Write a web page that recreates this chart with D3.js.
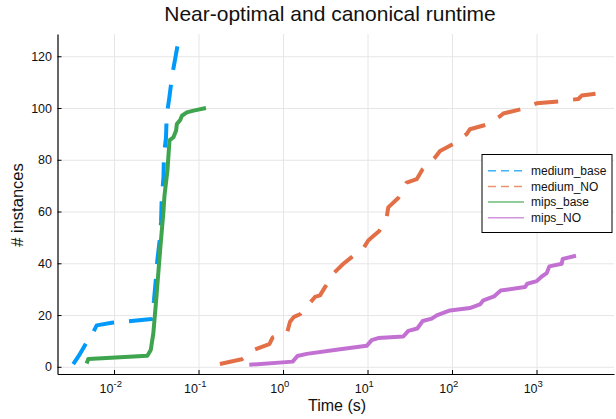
<!DOCTYPE html>
<html>
<head>
<meta charset="utf-8">
<script src="https://cdn.jsdelivr.net/npm/d3@7"></script>
<style>
  body { margin: 0; background: #fff; }
  text { font-family: "Liberation Sans", Arial, sans-serif; fill: #111; }
</style>
</head>
<body>
<div id="chart"></div>
<script>
// series: time (s) and cumulative # instances
var seriesNames = ["medium_base", "medium_NO", "mips_base", "mips_NO"];

var mediumBaseTime  = [0.00329, 0.00396, 0.00466, 0.00569, 0.00624, 0.0094, 0.028, 0.0297, 0.0314, 0.0325, 0.035, 0.036, 0.0366, 0.0385, 0.039, 0.0412, 0.042, 0.0451, 0.049, 0.0527, 0.0567];
var mediumBaseCount = [1, 5, 9, 13.5, 16, 17, 18.5, 25.7, 34.5, 41, 50, 56, 64, 73.5, 82, 88.5, 97, 104, 113, 118.7, 124.5];

var mediumNOTime  = [0.179, 0.324, 0.466, 0.689, 0.755, 1.125, 1.21, 1.35, 1.59, 2.13, 2.39, 2.74, 3.14, 4.02, 5.18, 6.33, 9.1, 10.2, 11.9, 13.8, 16.9, 17.6, 23.1, 29.1, 38.2, 45, 62.9, 72.1, 102, 149, 163, 250, 370, 405, 650, 1005, 1897, 3126, 3428, 5386];
var mediumNOCount = [1.1, 2.9, 6.7, 8.8, 11.4, 13.5, 17.4, 19.3, 20.3, 25.1, 27, 27.6, 30.8, 36.3, 39.8, 42.1, 46.2, 48.8, 50.7, 52.5, 58, 61.6, 65.2, 71.2, 72.5, 76.4, 80.9, 83.4, 86, 89.9, 91.8, 93.5, 96.8, 97.9, 99.5, 101.8, 102.6, 103.5, 104.8, 105.7];

var mipsBaseTime  = [0.00474, 0.00496, 0.0248, 0.0272, 0.0292, 0.0315, 0.0351, 0.0385, 0.0395, 0.0429, 0.0453, 0.0505, 0.0543, 0.0554, 0.0607, 0.0636, 0.0728, 0.0873, 0.1225];
var mipsBaseCount = [1.3, 3, 4.3, 6.5, 13, 25.7, 45, 60.3, 66, 76, 87.5, 88.7, 91.3, 93.8, 95.4, 97, 98.3, 99, 100];

var mipsNOTime  = [0.399, 1.30, 1.48, 1.91, 4.73, 9.78, 11.2, 13.4, 26.5, 30.4, 38.8, 45, 57.5, 65.9, 94.7, 163, 214, 235, 314, 377, 731, 778, 1005, 1153, 1321, 1418, 1987, 2042, 2932];
var mipsNOCount = [0.8, 2, 4.2, 5, 6.8, 8.1, 10.3, 11.1, 11.7, 13.9, 14.8, 17.7, 18.6, 19.9, 21.8, 22.7, 24.1, 25.7, 27.2, 29.5, 30.8, 32.1, 33.1, 34.9, 36.2, 38.8, 39.8, 41.7, 42.9];

var xTickExps = [-2, -1, 0, 1, 2, 3];
var yTicks = [0, 20, 40, 60, 80, 100, 120];

(function(){
    var width = 616;
    var height = 419;
    var left = 57.5, right = 614, top = 34, bottom = 374;

    var colors = ["#009afa", "#e36f47", "#3ea44e", "#c271d2"];
    var dashes = ["24,15", "24,15", null, null];

    var svg = d3.select("#chart")
        .append("svg")
        .attr("width", width)
        .attr("height", height);

    var x = d3.scaleLog()
        .domain([Math.pow(10, -2.669), Math.pow(10, 3.917)])
        .range([left, right]);
    var y = d3.scaleLinear()
        .domain([-2.78, 128.6])
        .range([bottom, top]);

    var xTicks = xTickExps.map(function(e){ return Math.pow(10, e) });

    // grid
    svg.append("g")
        .attr("transform", "translate(0," + bottom + ")")
        .call(d3.axisBottom(x).tickValues(xTicks).tickSize(-(bottom - top)).tickFormat(""))
        .call(function(g){
            g.select(".domain").remove();
            g.selectAll("line").attr("stroke", "#e6e6e6").attr("stroke-width", 1);
        });
    svg.append("g")
        .attr("transform", "translate(" + left + ",0)")
        .call(d3.axisLeft(y).tickValues(yTicks).tickSize(-(right - left)).tickFormat(""))
        .call(function(g){
            g.select(".domain").remove();
            g.selectAll("line").attr("stroke", "#e6e6e6").attr("stroke-width", 1);
        });

    // axes, ticks pointing inwards
    var xAxis = svg.append("g")
        .attr("transform", "translate(0," + bottom + ")")
        .call(d3.axisBottom(x).tickValues(xTicks).tickSizeInner(-4).tickSizeOuter(0).tickPadding(11).tickFormat(""));
    xAxis.select(".domain").attr("stroke", "#000").attr("stroke-width", 1.2);
    xAxis.selectAll(".tick line").attr("stroke", "#000");
    xAxis.selectAll(".tick text").each(function(d, i){
        var t = d3.select(this)
            .attr("font-size", 12.5)
            .attr("fill", "#111")
            .attr("y", 19)
            .attr("dy", 0)
            .attr("dx", "-0.3em");
        t.append("tspan").text("10");
        t.append("tspan").attr("font-size", 9.5).attr("dy", -6).text(xTickExps[i] < 0 ? "-" + (-xTickExps[i]) : xTickExps[i]);
    });

    var yAxis = svg.append("g")
        .attr("transform", "translate(" + left + ",0)")
        .call(d3.axisLeft(y).tickValues(yTicks).tickSizeInner(-4).tickSizeOuter(0).tickPadding(9));
    yAxis.select(".domain").attr("stroke", "#000").attr("stroke-width", 1.2);
    yAxis.selectAll(".tick line").attr("stroke", "#000");
    yAxis.selectAll(".tick text").attr("font-size", 12.5).attr("fill", "#111").attr("x", -5.5);

    // lines
    var data = [
        d3.zip(mediumBaseTime, mediumBaseCount),
        d3.zip(mediumNOTime, mediumNOCount),
        d3.zip(mipsBaseTime, mipsBaseCount),
        d3.zip(mipsNOTime, mipsNOCount)
    ];
    var line = d3.line()
        .x(function(d){ return x(d[0]) })
        .y(function(d){ return y(d[1]) });

    svg.selectAll(".series")
        .data(data)
        .enter().append("path")
        .attr("class", "series")
        .attr("d", line)
        .attr("fill", "none")
        .attr("stroke", function(d, i){ return colors[i] })
        .attr("stroke-width", 4)
        .attr("stroke-linejoin", "round")
        .attr("stroke-dasharray", function(d, i){ return dashes[i] });

    // title and labels
    svg.append("text")
        .attr("x", 330)
        .attr("y", 21)
        .attr("text-anchor", "middle")
        .attr("font-size", 21)
        .text("Near-optimal and canonical runtime");
    svg.append("text")
        .attr("x", 337)
        .attr("y", 411)
        .attr("text-anchor", "middle")
        .attr("font-size", 16)
        .text("Time (s)");
    svg.append("text")
        .attr("transform", "translate(22.5,205) rotate(-90)")
        .attr("text-anchor", "middle")
        .attr("font-size", 16.5)
        .text("# instances");

    // legend
    var legend = svg.append("g");
    legend.append("rect")
        .attr("x", 482)
        .attr("y", 154.5)
        .attr("width", 130)
        .attr("height", 78)
        .attr("fill", "#fff")
        .attr("stroke", "#000")
        .attr("stroke-width", 1);
    var items = legend.selectAll(".item")
        .data(seriesNames)
        .enter().append("g")
        .attr("class", "item")
        .attr("transform", function(d, i){ return "translate(0," + (170.7 + i * 15.7) + ")" });
    items.append("line")
        .attr("x1", 488).attr("x2", 524)
        .attr("stroke", function(d, i){ return colors[i] })
        .attr("stroke-opacity", 0.75)
        .attr("stroke-width", 1.5)
        .attr("stroke-dasharray", function(d, i){ return dashes[i] ? "8,5" : null });
    items.append("text")
        .attr("x", 531)
        .attr("dy", "0.35em")
        .attr("font-size", 12)
        .text(function(d){ return d });
})();
</script>
</body>
</html>
